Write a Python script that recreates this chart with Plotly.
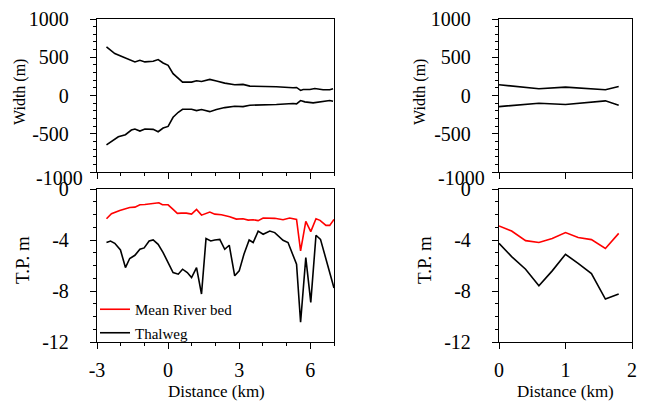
import plotly.graph_objects as go

# ---------------- data ----------------
# Left reach: width (upper / lower bank) vs distance
w_left_x_up = [-2.6, -2.25, -1.9, -1.55, -1.4, -1.19, -0.98, -0.63, -0.42, -0.21, 0.0, 0.21, 0.43, 0.61,
               0.99, 1.2, 1.41, 1.76, 2.04, 2.39, 2.81, 3.16, 3.45, 4.08, 4.57, 5.27, 5.42, 5.59, 5.7,
               5.98, 6.19, 6.54, 6.82, 6.96]
w_left_up = [636, 549, 504, 452, 439, 461, 439, 447, 470, 425, 395, 285, 219, 175,
             175, 193, 184, 211, 189, 162, 141, 145, 123, 123, 114, 101, 105, 66, 79,
             79, 92, 75, 75, 88]
w_left_x_lo = [-2.6, -2.25, -2.1, -1.8, -1.55, -1.4, -1.19, -0.98, -0.63, -0.42, -0.21, 0.0, 0.21, 0.43,
               0.61, 0.99, 1.2, 1.41, 1.76, 2.04, 2.39, 2.81, 3.16, 3.45, 4.08, 4.57, 5.27, 5.42,
               5.59, 5.77, 6.12, 6.54, 6.82, 6.96]
w_left_lo = [-645, -570, -540, -513, -452, -438, -465, -438, -443, -474, -425, -404, -285, -219,
             -180, -180, -197, -184, -211, -184, -158, -141, -145, -127, -127, -118, -105, -110,
             -66, -83, -96, -79, -66, -75]

# Left reach: bed levels
bed_left_x = [-2.6, -2.39, -2.04, -1.83, -1.62, -1.4, -1.19, -0.98, -0.77, -0.56, -0.39, -0.24, 0.0, 0.21,
              0.39, 0.56, 0.77, 0.99, 1.2, 1.41, 1.76, 1.97, 2.25, 2.6, 2.88, 3.16, 3.38, 3.59, 3.8,
              4.01, 4.5, 4.85, 5.13, 5.42, 5.59, 5.81, 6.02, 6.24, 6.41, 6.66, 6.82, 7.0]
bed_left = [-2.33, -1.94, -1.68, -1.58, -1.45, -1.42, -1.24, -1.21, -1.18, -1.16, -1.08, -1.24, -1.24, -1.6,
            -1.91, -1.89, -1.89, -1.97, -1.6, -2.05, -1.81, -1.97, -2.02, -2.17, -2.36, -2.33, -2.44, -2.41, -2.48,
            -2.28, -2.3, -2.41, -2.28, -2.38, -4.86, -2.54, -3.34, -2.33, -2.46, -2.85, -2.85, -2.38]
thal_left_x = [-2.6, -2.43, -2.25, -2.01, -1.8, -1.62, -1.4, -1.19, -1.01, -0.8, -0.63, -0.42, -0.21, 0.0,
               0.21, 0.43, 0.61, 0.81, 0.99, 1.2, 1.41, 1.6, 1.8, 1.97, 2.18, 2.39, 2.58, 2.81, 3.0,
               3.2, 3.42, 3.59, 3.8, 4.01, 4.29, 4.5, 4.85, 5.06, 5.42, 5.59, 5.81, 6.02, 6.24, 6.43,
               6.66, 7.0]
thal_left = [-4.2, -4.08, -4.26, -4.78, -6.16, -5.45, -5.2, -4.73, -4.62, -4.08, -4.0, -4.34, -4.99, -5.77,
             -6.55, -6.68, -6.29, -6.55, -6.94, -6.16, -8.24, -3.89, -4.08, -4.0, -3.95, -4.73, -4.41, -6.81, -6.42,
             -5.12, -4.0, -4.2, -3.3, -3.55, -3.3, -3.42, -4.02, -4.2, -5.9, -10.45, -5.38, -8.89, -3.63, -3.95,
             -5.51, -7.76]

# Right reach
w_right_x_up = [0.0, 0.32, 0.6, 1.0, 1.28, 1.6, 1.8]
w_right_up = [141, 109, 88, 109, 92, 75, 118]
w_right_x_lo = [0.0, 0.6, 1.0, 1.6, 1.8]
w_right_lo = [-145, -101, -118, -70, -127]
bed_right_x = [0.0, 0.19, 0.4, 0.6, 0.8, 1.0, 1.19, 1.39, 1.6, 1.8]
bed_right = [-2.9, -3.3, -4.05, -4.2, -3.89, -3.42, -3.81, -3.97, -4.67, -3.48]
thal_right_x = [0.0, 0.19, 0.4, 0.6, 0.8, 1.0, 1.19, 1.39, 1.6, 1.8]
thal_right = [-4.26, -5.3, -6.29, -7.59, -6.42, -5.12, -5.84, -6.63, -8.63, -8.24]

# tick labels (the lowest width label is drawn slightly lower, as in the source figure)
width_ticks = [-1000, -500, 0, 500, 1000]
width_ticktext = ["", "-500", "0", "500", "1000"]
width_low_label = "-1000"
tp_ticks = [-12, -8, -4, 0]
tp_ticktext = ["-12", "-8", "-4", "0"]
xl_ticks = [-3, 0, 3, 6]
xl_ticktext = ["-3", "0", "3", "6"]
xr_ticks = [0, 1, 2]
xr_ticktext = ["0", "1", "2"]

# ---------------- figure ----------------
W, H = 648, 403
FONT = "Liberation Serif"
BLACK = "#000000"
RED = "#ff0000"
LW = 1.6

fig = go.Figure()

def add(x, y, xa, ya, color, name=None, show=False, group=None):
    fig.add_trace(go.Scatter(x=x, y=y, mode="lines", xaxis=xa, yaxis=ya,
                             line=dict(color=color, width=LW), name=name or "",
                             showlegend=show, legendgroup=group,
                             hoverinfo="skip"))

# top-left width
add(w_left_x_up, w_left_up, "x", "y", BLACK)
add(w_left_x_lo, w_left_lo, "x", "y", BLACK)
# bottom-left bed levels
add(bed_left_x, bed_left, "x2", "y2", RED, "Mean River bed", True, "g1")
add(thal_left_x, thal_left, "x2", "y2", BLACK, "Thalweg", True, "g2")
# top-right width
add(w_right_x_up, w_right_up, "x3", "y3", BLACK)
add(w_right_x_lo, w_right_lo, "x3", "y3", BLACK)
# bottom-right bed levels
add(bed_right_x, bed_right, "x4", "y4", RED)
add(thal_right_x, thal_right, "x4", "y4", BLACK)

def px_x(p):
    return p / W

def px_y(p):
    return 1 - p / H

left_dom = [px_x(97), px_x(334)]
right_dom = [px_x(499), px_x(632)]
top_dom = [px_y(172), px_y(19)]
bot_dom = [px_y(342), px_y(189)]

TICK_SIZE = 20
tickfont = dict(family=FONT, size=TICK_SIZE, color=BLACK)

def xaxis(dom, anchor, rng, tv, tt, labels, minor_dtick):
    d = dict(domain=dom, anchor=anchor, range=rng, showgrid=False, zeroline=False,
             showline=True, linecolor=BLACK, linewidth=1.4, mirror=True,
             ticks="outside", ticklen=6, tickwidth=1.4, tickcolor=BLACK,
             tickmode="array", tickvals=tv, ticktext=tt, showticklabels=labels,
             tickfont=tickfont, ticklabelstandoff=4,
             fixedrange=True, automargin=False)
    if minor_dtick:
        d["minor"] = dict(dtick=minor_dtick, ticks="outside", ticklen=3, tickwidth=1.2,
                          tickcolor=BLACK, showgrid=False)
    return d

def yaxis(dom, anchor, rng, tv, tt, minor_dtick):
    return dict(domain=dom, anchor=anchor, range=rng, showgrid=False, zeroline=False,
                showline=True, linecolor=BLACK, linewidth=1.4, mirror=True,
                ticks="outside", ticklen=6, tickwidth=1.4, tickcolor=BLACK,
                tickmode="array", tickvals=tv, ticktext=tt, tickfont=tickfont,
                ticklabelstandoff=17,
                minor=dict(dtick=minor_dtick, ticks="outside", ticklen=3, tickwidth=1.2,
                           tickcolor=BLACK, showgrid=False),
                fixedrange=True, automargin=False)

fig.update_layout(
    template="none",
    width=W, height=H,
    margin=dict(l=0, r=0, t=0, b=0, autoexpand=False),
    paper_bgcolor="white", plot_bgcolor="white",
    font=dict(family=FONT, size=18, color=BLACK),
    xaxis=xaxis(left_dom, "y", [-3, 7], xl_ticks, xl_ticktext, False, 1),
    yaxis=yaxis(top_dom, "x", [-1000, 1000], width_ticks, width_ticktext, 100),
    xaxis2=xaxis(left_dom, "y2", [-3, 7], xl_ticks, xl_ticktext, True, 1),
    yaxis2=yaxis(bot_dom, "x2", [-12, 0], tp_ticks, tp_ticktext, 1),
    xaxis3=xaxis(right_dom, "y3", [0, 2], xr_ticks, xr_ticktext, False, None),
    yaxis3=yaxis(top_dom, "x3", [-1000, 1000], width_ticks, width_ticktext, 100),
    xaxis4=xaxis(right_dom, "y4", [0, 2], xr_ticks, xr_ticktext, True, None),
    yaxis4=yaxis(bot_dom, "x4", [-12, 0], tp_ticks, tp_ticktext, 1),
    showlegend=True,
    legend=dict(x=px_x(95), y=px_y(293), xanchor="left", yanchor="top",
                bgcolor="rgba(0,0,0,0)", borderwidth=0,
                font=dict(family=FONT, size=15, color=BLACK),
                traceorder="grouped", tracegroupgap=1, itemwidth=30),
)

def label(text, x, y, size, angle=0, xanchor="center"):
    fig.add_annotation(text=text, x=px_x(x), y=px_y(y), xref="paper", yref="paper",
                       showarrow=False, textangle=angle,
                       font=dict(family=FONT, size=size, color=BLACK),
                       xanchor=xanchor, yanchor="middle", borderpad=0)

label("Width (m)", 20, 92, 16, -90)
label("T.P. m", 22, 260, 19, -90)
label("Width (m)", 420, 92, 16, -90)
label("T.P. m", 424, 260, 19, -90)
label("Distance (km)", 216, 391, 17)
label("Distance (km)", 565, 391, 17)
# lowest width tick labels, nudged down slightly to clear the "0" below
label(width_low_label, 84, 178, TICK_SIZE, xanchor="right")
label(width_low_label, 486, 178, TICK_SIZE, xanchor="right")

fig.write_html("out.html", config={"displayModeBar": False},
               post_script="document.body.style.margin='0';")
